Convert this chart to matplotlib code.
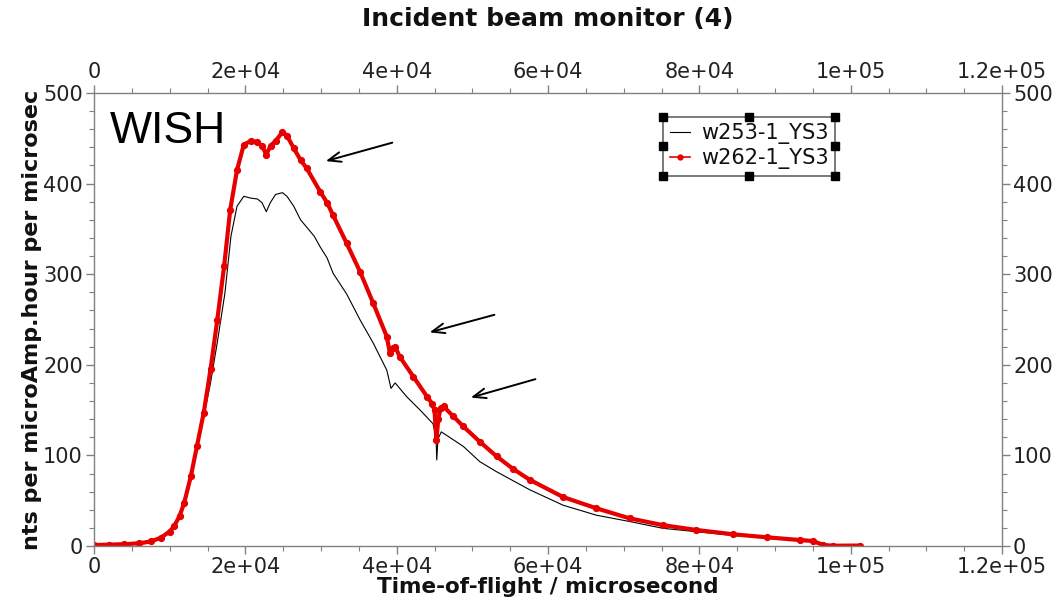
import matplotlib
matplotlib.use("Agg")
import matplotlib.pyplot as plt
from matplotlib.lines import Line2D
from matplotlib.ticker import MultipleLocator, FuncFormatter

# ---- data ----
red_x = [0, 2000, 4000, 6000, 7500, 8800, 10000, 10600, 11300, 11900, 12800, 13600,
         14500, 15400, 16300, 17200, 18000, 18900, 19800, 20700, 21600, 22250, 22770,
         23350, 24000, 24900, 25500, 26400, 27300, 28100, 29900, 30800, 31600, 33400,
         35200, 36900, 38700, 39100, 39500, 39800, 40400, 42200, 44000, 44700, 45000,
         45250, 45500, 45800, 46200, 47500, 48800, 51000, 53200, 55400, 57600, 62000,
         66400, 70800, 75200, 79600, 84500, 88900, 93300, 95000, 96400, 97700, 101200]
red_y = [1, 1.5, 2, 3, 5, 9, 16, 22, 33, 47, 77, 110,
         147, 195, 250, 309, 371, 415, 443, 447, 446, 441, 432,
         442, 447, 457, 453, 439, 426, 417, 391, 379, 365, 334,
         302, 268, 231, 213, 218, 220, 209, 187, 165, 157, 150,
         117, 140, 152, 154, 143, 132, 115, 99, 85, 73, 54,
         41.6, 30.5, 23, 17.7, 12.9, 9.6, 6.6, 5.5, 1.1, 0.3, 0.5]

black_x = [0, 4000, 6000, 8800, 10000, 11300, 12800, 13600, 14500, 15400, 16300, 17300,
           18100, 18900, 19800, 20700, 21600, 22200, 22770, 23300, 24000, 24900, 25500,
           26400, 27300, 28100, 29100, 29900, 30800, 31600, 33400, 35200, 36900, 38700,
           39250, 39800, 41300, 43100, 44800, 45200, 45300, 45450, 45900, 48800, 51000,
           53200, 57600, 62000, 66400, 70800, 75200, 79600, 84000, 88900, 93300, 95000,
           96400, 98000, 101000]
black_y = [0.5, 1.5, 3, 8, 15, 31, 74, 106, 143, 180, 225, 279,
           342, 375, 386, 384, 383, 379, 369, 379, 388, 390, 386,
           375, 360, 352, 342, 330, 318, 301, 278, 249, 224, 194,
           174, 180, 165, 150, 135, 120, 95, 118, 126, 110, 93,
           82, 62, 45, 34, 27, 19.5, 15.8, 12, 9, 6, 5,
           1, 0.3, 0.3]

series_labels = ["w253-1_YS3", "w262-1_YS3"]
title = "Incident beam monitor (4)"
xlabel = "Time-of-flight / microsecond"
ylabel = "nts per microAmp.hour per microsec"

# arrows: (tail_x, tail_y, head_x, head_y) in data units
arrows = [(39780, 446, 30270, 424),
          (53270, 256, 43990, 235),
          (58690, 185, 49440, 163)]

# ---- figure ----
fig = plt.figure(figsize=(10.61, 6.06), dpi=100)
ax = fig.add_axes([94/1061, 60/606, 908/1061, 453/606])

ax.plot(black_x, black_y, color="black", lw=0.8, label=series_labels[0])
ax.plot(red_x, red_y, color="#e60000", lw=3.0, marker="o", ms=4.2,
        mec="#e60000", mfc="#e60000", label=series_labels[1])

ax.set_xlim(0, 120000)
ax.set_ylim(0, 500)

def sci(v, pos):
    if v == 0:
        return "0"
    s = "%.1e" % v
    m, e = s.split("e")
    m = m.rstrip("0").rstrip(".")
    sign = "+" if int(e) >= 0 else "-"
    return "%se%s%02d" % (m, sign, abs(int(e)))

ax.xaxis.set_major_locator(MultipleLocator(20000))
ax.xaxis.set_minor_locator(MultipleLocator(5000))
ax.xaxis.set_major_formatter(FuncFormatter(sci))
ax.yaxis.set_major_locator(MultipleLocator(100))
ax.yaxis.set_minor_locator(MultipleLocator(20))

spine_col = "#808080"
for s in ax.spines.values():
    s.set_color(spine_col)
    s.set_linewidth(1.0)

ax.tick_params(which="both", direction="out", top=True, right=True,
               labeltop=True, labelright=True, color=spine_col)
ax.tick_params(which="major", length=6, width=1.0, labelsize=15,
               labelcolor="#222222", pad=2)
ax.tick_params(which="minor", length=3.5, width=0.8)

ax.set_title(title, fontsize=18, fontweight="bold", pad=48, color="#111111")
ax.set_xlabel(xlabel, fontsize=15.5, fontweight="bold", labelpad=0, color="#111111")
ax.set_ylabel(ylabel, fontsize=16, fontweight="bold", labelpad=1, color="#111111")

ax.text(0.017, 0.915, "WISH", transform=ax.transAxes, fontsize=32,
        family="Liberation Sans", va="center", ha="left", color="black")

for tx, ty, hx, hy in arrows:
    ax.annotate("", xy=(hx, hy), xytext=(tx, ty),
                arrowprops=dict(arrowstyle="->,head_length=0.9,head_width=0.35",
                                color="black", lw=1.4))

leg = ax.legend(loc="upper left", bbox_to_anchor=(0.627, 0.947), borderaxespad=0,
                fontsize=15, handlelength=1.0, handletextpad=0.5, borderpad=0.3,
                labelspacing=0.2, fancybox=False, framealpha=1, edgecolor="#707070")
leg.get_frame().set_linewidth(1.3)
for t in leg.get_texts():
    t.set_color("#111111")
leg.get_lines()[1].set_linewidth(1.2)
leg.get_lines()[1].set_markersize(3.5)

# selection handles on the legend frame
fig.canvas.draw()
bb = leg.get_window_extent().transformed(fig.transFigure.inverted())
xs = [bb.x0, (bb.x0 + bb.x1) / 2, bb.x1]
ys = [bb.y0, (bb.y0 + bb.y1) / 2, bb.y1]
hx, hy = [], []
for i, xv in enumerate(xs):
    for j, yv in enumerate(ys):
        if i == 1 and j == 1:
            continue
        hx.append(xv)
        hy.append(yv)
fig.add_artist(Line2D(hx, hy, transform=fig.transFigure, ls="none", marker="s",
                      ms=5.5, color="black"))

fig.savefig("out.png", dpi=100)
